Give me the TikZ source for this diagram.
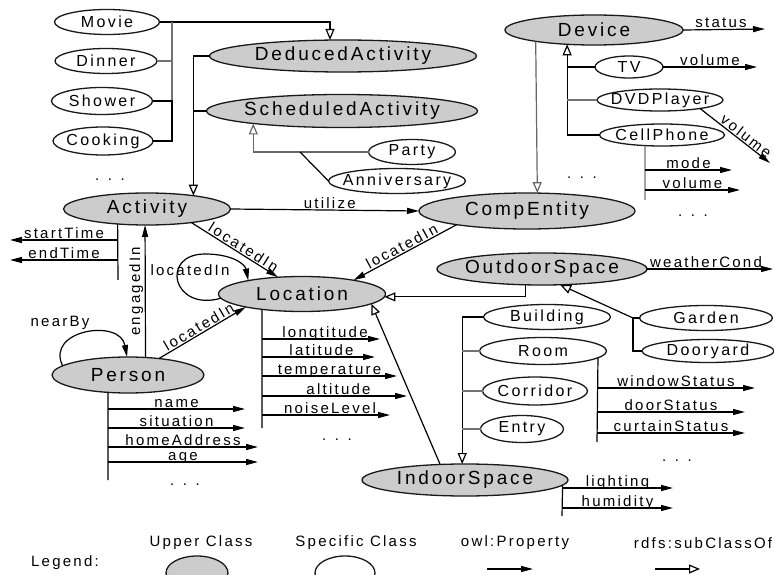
\documentclass[tikz,border=0pt]{standalone}
\usepackage{fontspec}
\setmainfont{Liberation Sans}[LetterSpace=15]
\usetikzlibrary{arrows.meta,shapes.geometric}
\definecolor{upperfill}{RGB}{204,204,204}
\newcommand\zb[1]{\makebox[0pt]{#1}}
\tikzset{
  cls/.style={ellipse, draw=black!90, line width=1.3pt, inner sep=0pt, outer sep=0pt},
  upcls/.style={cls, fill=upperfill, font=\fontsize{19}{19}\selectfont},
  spcls/.style={cls, fill=white, font=\fontsize{16}{16}\selectfont},
  ln/.style={line width=1.2pt},
  thinln/.style={line width=1.2pt, draw=black!55},
  boldln/.style={line width=2pt},
  prop/.style={ln, -{Triangle[length=12pt,width=6pt]}},
  sub/.style={ln, -{Triangle[open,fill=white,length=11pt,width=9pt]}},
  lbl/.style={font=\fontsize{15}{15}\selectfont, inner sep=0pt, anchor=base, yshift=1.5pt},
  slbl/.style={font=\fontsize{15}{15}\selectfont, inner sep=1pt, sloped, above},
  txt/.style={font=\fontsize{15}{15}\selectfont, inner sep=0pt},
}
\begin{document}
\begin{tikzpicture}[x=1pt,y=-1pt]
\useasboundingbox (0,0) rectangle (774,575);

% ---------- upper classes
\node[upcls,minimum width=267pt,minimum height=32pt] (deduced) at (343,56) {\zb{DeducedActivity}};
\node[upcls,minimum width=271pt,minimum height=33pt] (sched) at (342,111) {\zb{ScheduledActivity}};
\node[upcls,minimum width=167pt,minimum height=32pt] (activity) at (147,209) {\zb{Activity}};
\node[upcls,minimum width=216pt,minimum height=36pt] (compent) at (527,211) {\zb{CompEntity}};
\node[upcls,minimum width=178pt,minimum height=30pt] (device) at (594,30) {\zb{Device}};
\node[upcls,minimum width=167pt,minimum height=35pt] (location) at (302,294) {\zb{Location}};
\node[upcls,minimum width=210pt,minimum height=32pt] (outdoor) at (542,269) {\zb{OutdoorSpace}};
\node[upcls,minimum width=152pt,minimum height=36pt] (person) at (128,375) {\zb{Person}};
\node[upcls,minimum width=206pt,minimum height=32pt] (indoor) at (465,480) {\zb{IndoorSpace}};

% ---------- specific classes
\node[spcls,minimum width=105pt,minimum height=25pt] (movie) at (107,22) {\zb{Movie}};
\node[spcls,minimum width=102pt,minimum height=25pt] (dinner) at (106,61) {\zb{Dinner}};
\node[spcls,minimum width=101pt,minimum height=27pt] (shower) at (102,101) {\zb{Shower}};
\node[spcls,minimum width=100pt,minimum height=28pt] (cooking) at (103,141) {\zb{Cooking}};
\node[spcls,minimum width=87pt,minimum height=25pt] (party) at (412,152) {\zb{Party}};
\node[spcls,minimum width=137pt,minimum height=25pt] (anniv) at (397,181) {\zb{Anniversary}};
\node[spcls,minimum width=68pt,minimum height=22pt] (tv) at (629,67) {\zb{TV}};
\node[spcls,minimum width=126pt,minimum height=22pt] (dvd) at (660,100) {\zb{DVDPlayer}};
\node[spcls,minimum width=125pt,minimum height=22pt] (cell) at (662,135) {\zb{CellPhone}};
\node[spcls,minimum width=127pt,minimum height=25pt] (building) at (547,317) {\zb{Building}};
\node[spcls,minimum width=127pt,minimum height=27pt] (room) at (543,351) {\zb{Room}};
\node[spcls,minimum width=105pt,minimum height=28pt] (corridor) at (535,391) {\zb{Corridor}};
\node[spcls,minimum width=83pt,minimum height=27pt] (entry) at (522,429) {\zb{Entry}};
\node[spcls,minimum width=133pt,minimum height=25pt] (garden) at (706,318) {\zb{Garden}};
\node[spcls,minimum width=132pt,minimum height=23pt] (dooryard) at (708,351) {\zb{Dooryard}};

% ---------- DeducedActivity subclasses
\coordinate (dbarT) at (172,22);
\coordinate (dbarM) at (172,101);
\coordinate (dbarB) at (172,141);
\draw[sub] (movie.east) -| ([xshift=-13pt]deduced.north);
\draw[thinln] (dinner.east) -- (dinner.east -| dbarT);
\draw[thinln] (dbarT) -- (dbarM);
\draw[boldln] (shower.east) -- (dbarM) -- (dbarB) -- (cooking.east);

% ---------- Deduced / Scheduled -> Activity
\draw[sub] (deduced.west) -| (activity.16.2);
\draw[ln] (sched.west) -- (sched.west -| activity.16.2);

% ---------- Party / Anniversary -> Scheduled
\coordinate (pj) at (300,152);
\draw[sub, draw=black!60] (party.west) -| (sched.188.6);
\draw[ln] (anniv.west) -- (pj);

% ---------- utilize
\draw[prop] (activity.east) -- node[lbl, xshift=5pt]{utilize} (compent.west);

% ---------- Device
\draw[sub, draw=black!60] (device.191.4) -- (compent.60.8);
\draw[sub] (cell.west) -| (device.208.8);
\draw[ln] (tv.west) -- (tv.west -| device.208.8);
\draw[thinln] (dvd.west) -- (dvd.west -| device.208.8);
\coordinate (statusE) at (765,29);
\draw[prop] (device.east) -- node[lbl, xshift=-3pt]{status} (statusE);
\coordinate (tvE) at (757,67);
\draw[prop] (tv.east) -- node[lbl]{volume} (tvE);
\coordinate (dvdE) at (770,163);
\draw[prop] (dvd.-12) -- node[lbl, sloped, pos=0.6]{volume} (dvdE);
\coordinate (cpB) at (645,200);
\draw[thinln] (cell.212) -- (cpB);
\coordinate (cpM) at (645,170);
\coordinate (cpME) at (732,170);
\draw[prop] (cpM) -- node[lbl]{mode} (cpME);
\coordinate (cpV) at (645,190);
\coordinate (cpVE) at (740,190);
\draw[prop] (cpV) -- node[lbl]{volume} (cpVE);

% ---------- Activity properties
\coordinate (abar) at (118,280);
\draw[ln] (activity.207.3) -- (abar);
\coordinate (st0) at (118,240);
\coordinate (stE) at (10,240);
\draw[prop] (st0) -- node[lbl]{startTime} (stE);
\coordinate (et0) at (118,260);
\coordinate (etE) at (10,260);
\draw[prop] (et0) -- node[lbl]{endTime} (etE);

% ---------- engagedIn, locatedIn
\draw[prop] (person.45.8) -- node[font=\fontsize{15}{15}\selectfont, inner sep=1.5pt, rotate=90, anchor=south]{engagedIn} (activity.263);
\draw[prop] (person.28.8) -- node[slbl]{locatedIn} (location.193.8);
\draw[prop] (activity.-17.7) -- node[slbl, pos=0.56]{locatedIn} (location.145);
\draw[prop] (compent.191.9) -- node[slbl]{locatedIn} (location.15.6);

% ---------- self loops
\draw[prop] (location.183) .. controls (172,312) and (160,254) .. (205,254)
   .. controls (232,254) and (245,264) .. (location.166.5);
\node[txt] (loopl) at (190,270) {locatedIn};
\draw[prop] (person.172) .. controls (45,330) and (120,318) .. (person.93);
\node[txt] (nearl) at (60,323) {nearBy};

% ---------- Person properties
\coordinate (pbar) at (108,480);
\draw[ln] (person.221) -- (pbar);
\coordinate (pn0) at (108,409) ; \coordinate (pnE) at (245,409);
\coordinate (ps0) at (108,428) ; \coordinate (psE) at (245,428);
\coordinate (ph0) at (108,447) ; \coordinate (phE) at (258,447);
\coordinate (pa0) at (108,462) ; \coordinate (paE) at (258,462);
\draw[prop] (pn0) -- node[lbl]{name} (pnE);
\draw[prop] (ps0) -- node[lbl]{situation} (psE);
\draw[prop] (ph0) -- node[lbl]{homeAddress} (phE);
\draw[prop] (pa0) -- node[lbl]{age} (paE);

% ---------- Location properties
\coordinate (lbar) at (262,428);
\draw[ln] (location.201) -- (lbar);
\coordinate (l10) at (262,339); \coordinate (l1E) at (380,339);
\coordinate (l20) at (262,357); \coordinate (l2E) at (375,357);
\coordinate (l30) at (262,376); \coordinate (l3E) at (397,376);
\coordinate (l40) at (262,396); \coordinate (l4E) at (407,396);
\coordinate (l50) at (262,415); \coordinate (l5E) at (390,415);
\draw[prop] (l10) -- node[lbl, xshift=4pt]{longtitude} (l1E);
\draw[prop] (l20) -- node[lbl, xshift=3pt]{latitude} (l2E);
\draw[prop] (l30) -- node[lbl]{temperature} (l3E);
\draw[prop] (l40) -- node[lbl, xshift=4pt]{altitude} (l4E);
\draw[prop] (l50) -- node[lbl, xshift=4pt]{noiseLevel} (l5E);

% ---------- OutdoorSpace
\draw[sub] (outdoor.224.7) |- (location.-2.8);
\coordinate (gbar) at (633,318);
\draw[sub] (gbar) -- (outdoor.-41.3);
\draw[ln] (garden.west) -- (gbar) |- (dooryard.west);
\coordinate (wcE) at (773,269);
\draw[prop] (outdoor.east) -- node[lbl, xshift=-4pt]{weatherCond} (wcE);

% ---------- IndoorSpace
\draw[sub] (building.west) -| (indoor.100.6);
\draw[thinln] (room.west) -- (room.west -| indoor.100.6);
\draw[thinln] (corridor.west) -- (corridor.west -| indoor.100.6);
\draw[thinln] (entry.west) -- (entry.west -| indoor.100.6);
\draw[sub] (indoor.148.2) -- (location.-8.5);
\coordinate (ibar) at (562,516);
\draw[ln] (indoor.-3.2) -- (ibar);
\coordinate (il0) at (562,488); \coordinate (ilE) at (673,488);
\coordinate (ih0) at (562,508); \coordinate (ihE) at (673,508);
\draw[prop] (il0) -- node[lbl]{lighting} (ilE);
\draw[prop] (ih0) -- node[lbl]{humidity} (ihE);

% ---------- Room properties
\coordinate (rbar) at (597,442);
\draw[ln] (room.-7.5) -- (rbar);
\coordinate (r10) at (597,388); \coordinate (r1E) at (755,388);
\coordinate (r20) at (597,412); \coordinate (r2E) at (745,412);
\coordinate (r30) at (597,433); \coordinate (r3E) at (745,433);
\draw[prop] (r10) -- node[lbl]{windowStatus} (r1E);
\draw[prop] (r20) -- node[lbl]{doorStatus} (r2E);
\draw[prop] (r30) -- node[lbl]{curtainStatus} (r3E);

% ---------- ellipsis marks
\node[txt] (dots1) at (110,180) {. . .};
\node[txt] (dots2) at (582,178) {. . .};
\node[txt] (dots3) at (693,216) {. . .};
\node[txt] (dots4) at (337,440) {. . .};
\node[txt] (dots5) at (185,485) {. . .};
\node[txt] (dots6) at (677,461) {. . .};

% ---------- legend
\node[txt] (legt) at (65,563) {Legend:};
\node[txt] (legu) at (201,543) {Upper Class};
\node[txt] (legs) at (356,543) {Specific Class};
\node[txt] (lego) at (515,543) {owl:Property};
\node[txt] (legr) at (703,543) {rdfs:subClassOf};
\node[upcls, minimum width=62pt, minimum height=34pt] (legU) at (197,573) {};
\node[spcls, minimum width=60pt, minimum height=34pt] (legS) at (345,573) {};
\coordinate (loA) at (487,569); \coordinate (loB) at (533,569);
\draw[prop] (loA) -- (loB);
\coordinate (lrA) at (655,569); \coordinate (lrB) at (700,569);
\draw[sub] (lrA) -- (lrB);
\end{tikzpicture}
\end{document}
